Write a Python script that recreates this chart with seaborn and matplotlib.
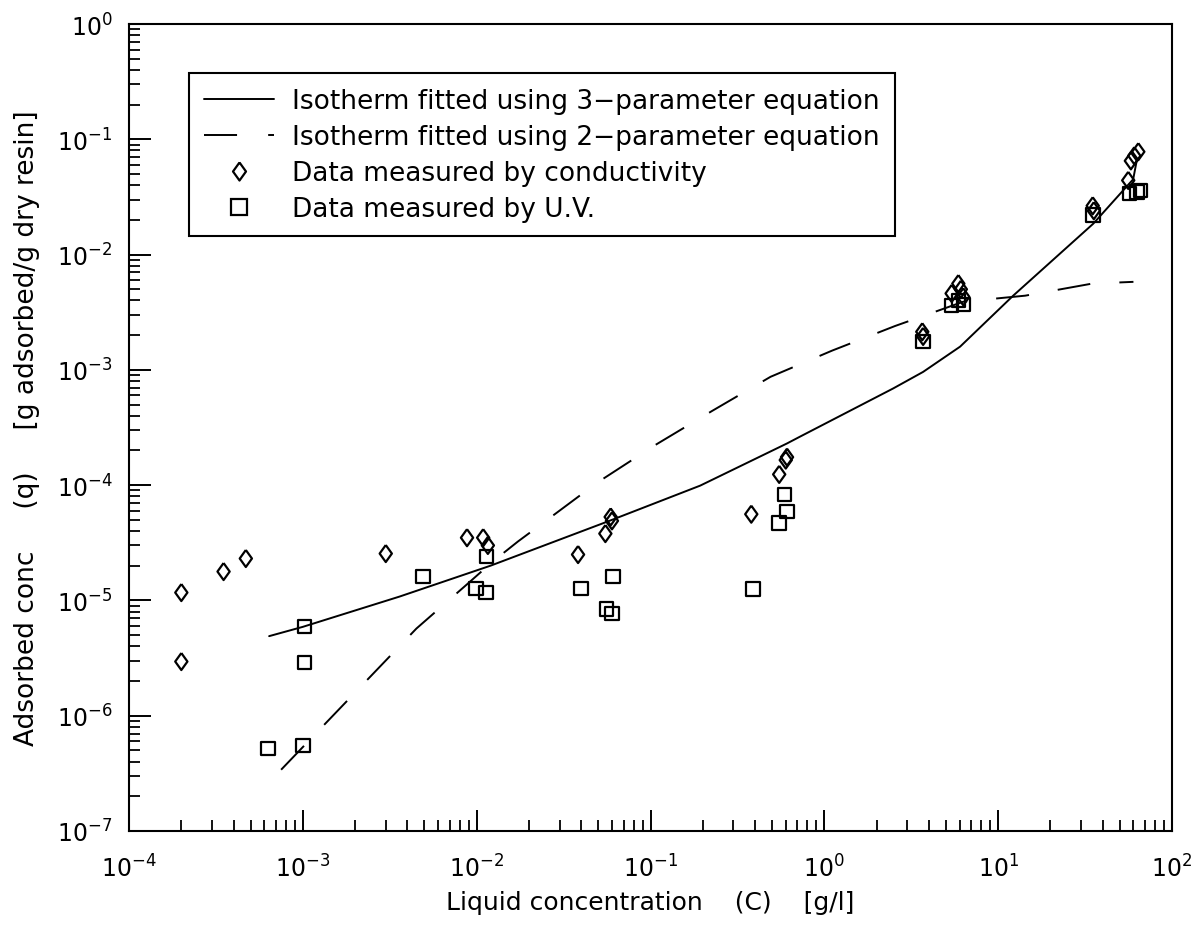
import numpy as np
import pandas as pd
import matplotlib
matplotlib.use("Agg")
import matplotlib.pyplot as plt
import seaborn as sns
from matplotlib.ticker import LogLocator, NullFormatter
from matplotlib.lines import Line2D

# ---- data ----
fit3_x = [6.4e-4, 1.0e-3, 3.6e-3, 1.2e-2, 5.8e-2, 0.193, 0.61, 0.73, 2.49, 3.7, 6.04, 12.2, 35.2, 59.8, 63.0]
fit3_y = [4.9e-6, 5.9e-6, 1.08e-5, 2.0e-5, 4.9e-5, 9.9e-5, 2.3e-4, 2.65e-4, 6.9e-4, 9.6e-4, 1.59e-3, 4.4e-3, 1.85e-2, 4.5e-2, 6.8e-2]

fit2_x = [7.5e-4, 4.5e-3, 8.8e-3, 1.24e-2, 1.73e-2, 2.5e-2, 4.93e-2, 0.105, 0.226, 0.49, 1.11, 2.55, 6.3, 14.3, 34.7, 60.0]
fit2_y = [3.4e-7, 5.7e-6, 1.38e-5, 2.18e-5, 3.25e-5, 4.9e-5, 1.05e-4, 2.2e-4, 4.4e-4, 8.7e-4, 1.47e-3, 2.4e-3, 3.9e-3, 4.4e-3, 5.6e-3, 5.8e-3]

cond_x = [2.0e-4, 2.0e-4, 3.5e-4, 4.7e-4, 3.0e-3, 8.8e-3, 1.09e-2, 1.16e-2, 3.83e-2,
          5.5e-2, 5.9e-2, 6.0e-2, 0.38, 0.55, 0.60, 0.61, 3.66, 3.7,
          5.4, 5.9, 6.1, 6.3, 35.0, 35.5, 56.0, 58.0, 60.7, 64.0]
cond_y = [1.17e-5, 2.95e-6, 1.78e-5, 2.31e-5, 2.55e-5, 3.5e-5, 3.5e-5, 3.0e-5, 2.5e-5,
          3.8e-5, 5.3e-5, 4.9e-5, 5.6e-5, 1.24e-4, 1.65e-4, 1.75e-4, 2.14e-3, 1.95e-3,
          4.6e-3, 5.6e-3, 5.0e-3, 4.3e-3, 2.65e-2, 2.4e-2, 4.4e-2, 6.5e-2, 7.2e-2, 7.8e-2]

uv_x = [6.3e-4, 1.0e-3, 1.02e-3, 1.02e-3, 4.9e-3, 9.9e-3, 1.13e-2, 1.14e-2, 3.99e-2,
        5.6e-2, 6.0e-2, 6.1e-2, 0.39, 0.55, 0.61, 0.59, 3.7,
        5.4, 6.3, 5.9, 35.0, 57.0, 63.0, 66.0]
uv_y = [5.2e-7, 5.5e-7, 2.9e-6, 5.95e-6, 1.61e-5, 1.27e-5, 1.17e-5, 2.4e-5, 1.27e-5,
        8.4e-6, 7.7e-6, 1.61e-5, 1.26e-5, 4.7e-5, 5.9e-5, 8.3e-5, 1.76e-3,
        3.6e-3, 3.7e-3, 4.0e-3, 2.2e-2, 3.4e-2, 3.5e-2, 3.6e-2]

x_ticks = [1e-4, 1e-3, 1e-2, 1e-1, 1e0, 1e1, 1e2]
x_tick_labels = [r"$10^{-4}$", r"$10^{-3}$", r"$10^{-2}$", r"$10^{-1}$", r"$10^{0}$", r"$10^{1}$", r"$10^{2}$"]
y_ticks = [1e-7, 1e-6, 1e-5, 1e-4, 1e-3, 1e-2, 1e-1, 1e0]
y_tick_labels = [r"$10^{-7}$", r"$10^{-6}$", r"$10^{-5}$", r"$10^{-4}$", r"$10^{-3}$", r"$10^{-2}$", r"$10^{-1}$", r"$10^{0}$"]

lab_fit3 = "Isotherm fitted using 3\u2212parameter equation"
lab_fit2 = "Isotherm fitted using 2\u2212parameter equation"
lab_cond = "Data measured by conductivity"
lab_uv = "Data measured by U.V."

# ---- plot ----
sns.set_style("white")
plt.rcParams['font.family'] = ['DejaVu Sans']
plt.rcParams['mathtext.fontset'] = 'dejavusans'
plt.rcParams['text.color'] = 'black'
plt.rcParams['axes.labelcolor'] = 'black'

diamond = [(0, 1), (0.72, 0), (0, -1), (-0.72, 0), (0, 1)]

fig = plt.figure(figsize=(11.95, 9.28), dpi=100)
ax = fig.add_axes([129 / 1195, 1 - 832 / 928, (1172 - 129) / 1195, (832 - 25) / 928])

df3 = pd.DataFrame({"C": fit3_x, "q": fit3_y})
df2 = pd.DataFrame({"C": fit2_x, "q": fit2_y})
dfc = pd.DataFrame({"C": cond_x, "q": cond_y})
dfu = pd.DataFrame({"C": uv_x, "q": uv_y})

sns.lineplot(data=df3, x="C", y="q", ax=ax, color="black", lw=1.4, sort=False,
             estimator=None)
sns.lineplot(data=df2, x="C", y="q", ax=ax, color="black", lw=1.4, sort=False,
             estimator=None, linestyle=(0, (17, 15)))
sns.scatterplot(data=dfc, x="C", y="q", ax=ax, marker=diamond, s=150,
                facecolor="none", edgecolor="black", linewidth=1.6)
sns.scatterplot(data=dfu, x="C", y="q", ax=ax, marker="s", s=95,
                facecolor="none", edgecolor="black", linewidth=1.6)

ax.set_xscale("log")
ax.set_yscale("log")
ax.set_xlim(1e-4, 1e2)
ax.set_ylim(1e-7, 1e0)

ax.set_xticks(x_ticks)
ax.set_xticklabels(x_tick_labels)
ax.set_yticks(y_ticks)
ax.set_yticklabels(y_tick_labels)
ax.xaxis.set_minor_locator(LogLocator(base=10, subs=np.arange(2, 10), numticks=20))
ax.yaxis.set_minor_locator(LogLocator(base=10, subs=np.arange(2, 10), numticks=20))
ax.xaxis.set_minor_formatter(NullFormatter())
ax.yaxis.set_minor_formatter(NullFormatter())

ax.tick_params(axis="both", which="both", bottom=True, left=True, top=False, right=False)
ax.tick_params(axis="x", which="major", direction="in", length=15, width=1.4,
               labelsize=17, pad=17, colors="black")
ax.tick_params(axis="y", which="major", direction="in", length=16, width=1.4,
               labelsize=17, pad=12, colors="black")
ax.tick_params(axis="both", which="minor", direction="in", length=8, width=1.3,
               colors="black")
for sp in ax.spines.values():
    sp.set_linewidth(1.5)
    sp.set_color("black")

ax.set_xlabel("Liquid concentration    (C)    [g/l]", fontsize=18, labelpad=6)
ax.set_ylabel("Adsorbed conc     (q)     [g adsorbed/g dry resin]", fontsize=19, labelpad=12)

handles = [
    Line2D([], [], color="black", lw=1.4),
    Line2D([], [], color="black", lw=1.4, linestyle=(0, (17, 16))),
    Line2D([], [], color="black", lw=0, marker=diamond, markersize=13, markerfacecolor="none",
           markeredgewidth=1.6),
    Line2D([], [], color="black", lw=0, marker="s", markersize=11, markerfacecolor="none",
           markeredgewidth=1.6),
]
leg = ax.legend(handles, [lab_fit3, lab_fit2, lab_cond, lab_uv],
                loc="upper left", bbox_to_anchor=(0.058, 0.939), frameon=True,
                fancybox=False, edgecolor="black", framealpha=1.0, fontsize=19,
                handlelength=2.65, borderpad=0.55, labelspacing=0.38,
                handletextpad=0.7, borderaxespad=0)
leg.get_frame().set_linewidth(1.5)

fig.savefig("out.png", dpi=100, facecolor="white")
